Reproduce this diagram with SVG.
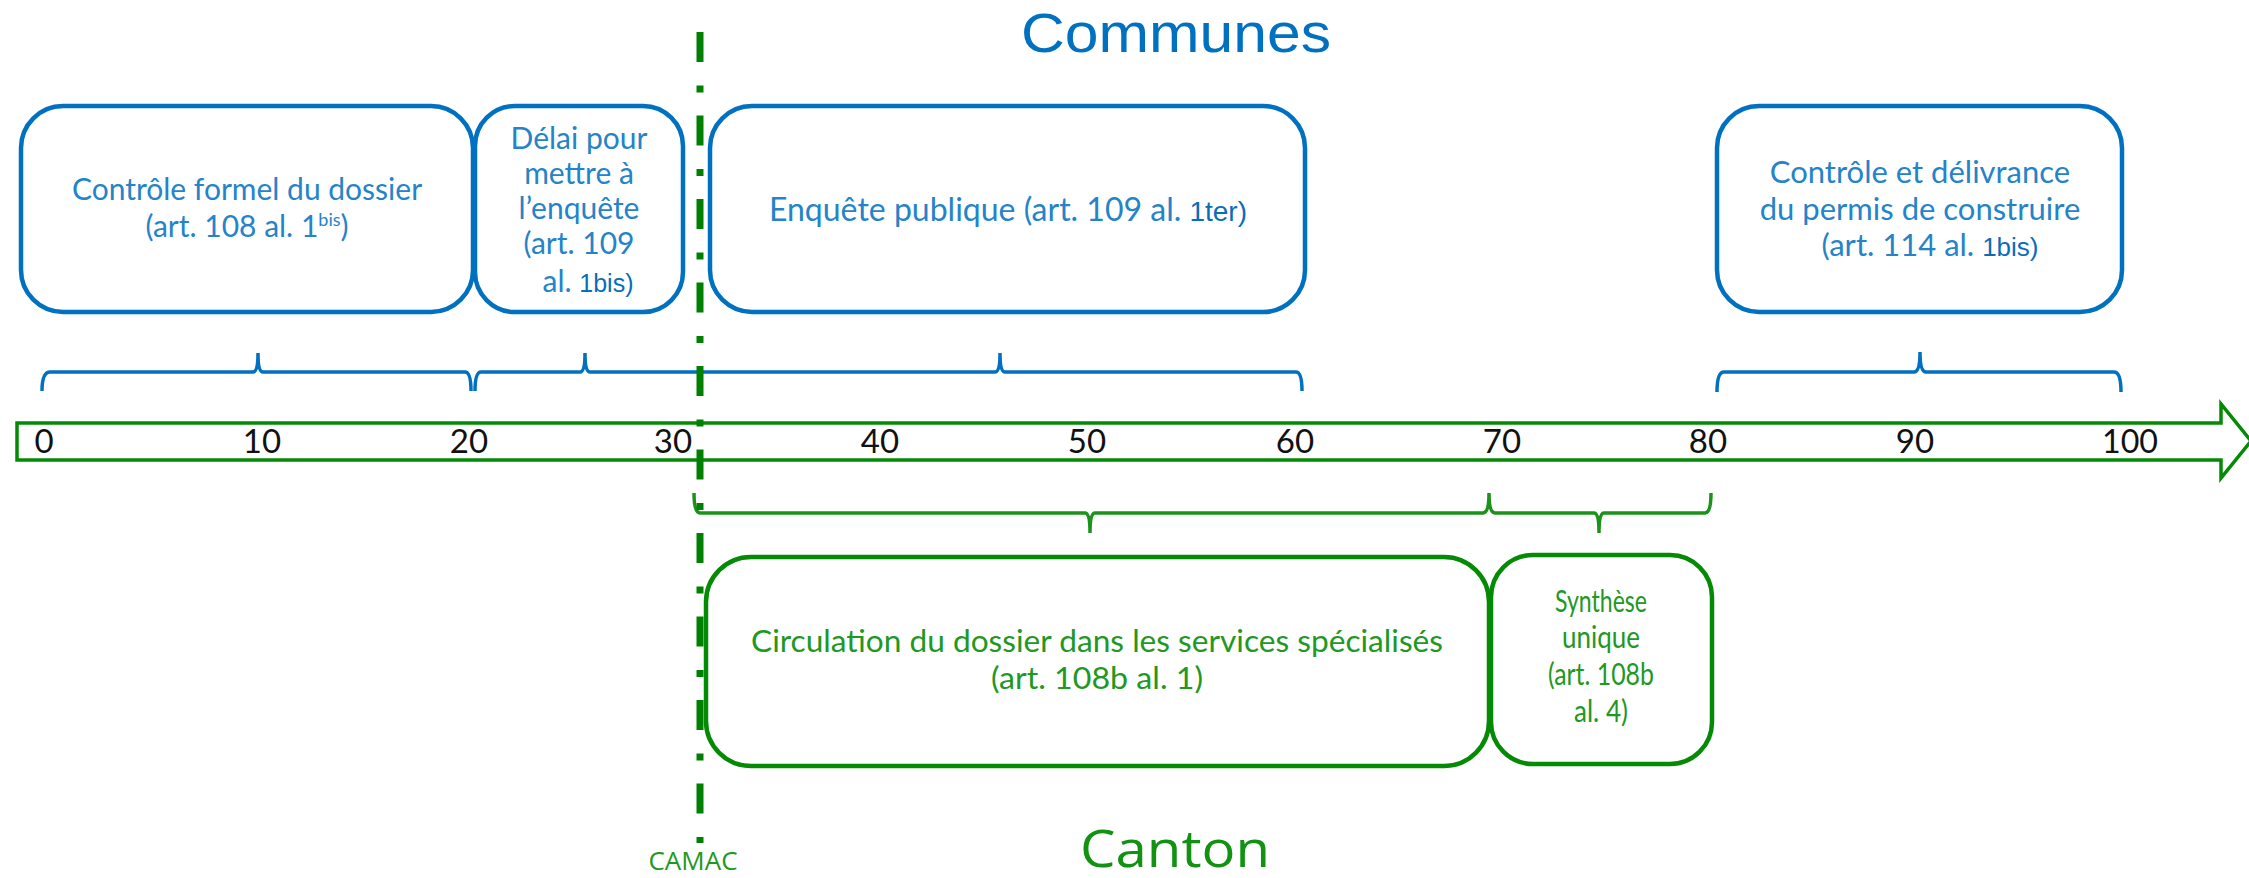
<svg xmlns="http://www.w3.org/2000/svg" width="2249" height="878" viewBox="0 0 2249 878">
<style>
.bbox{fill:#fff;stroke:#0070C0;stroke-width:4.5}
.gbox{fill:#fff;stroke:#058A05;stroke-width:4.5}
.bt{font-family:Lato,"Liberation Sans",sans-serif;font-size:30px;fill:#2583C9;text-anchor:middle}
.bt2{font-family:"Liberation Sans Narrow","Liberation Sans",sans-serif;font-size:25px;fill:#0A6DBA}
.gt{font-family:Lato,"Liberation Sans",sans-serif;font-size:30px;fill:#21981F;text-anchor:middle}
.num{font-family:Lato,"Liberation Sans",sans-serif;font-size:33px;fill:#111;text-anchor:middle}
.bbr{fill:none;stroke:#0070C0;stroke-width:3.5}
.gbr{fill:none;stroke:#1B931B;stroke-width:3.5}
.title{font-family:"Open Sans","Liberation Sans",sans-serif;text-anchor:middle}
</style>
<rect width="2249" height="878" fill="#fff"/>

<g id="title-communes"><text x="1176" y="52" style="font-family:'Liberation Sans',Arial,sans-serif;font-size:56px" text-anchor="middle" fill="#0070C0" textLength="310" lengthAdjust="spacingAndGlyphs">Communes</text></g>
<g id="title-canton"><text class="title" x="1175" y="867" font-size="52" fill="#139113" textLength="190" lengthAdjust="spacingAndGlyphs">Canton</text></g>

<g id="timeline">
<polygon points="17,423 2221,423 2221,404 2251,441 2221,478 2221,460 17,460" fill="#fff" stroke="#058A05" stroke-width="3.5"/>
<text class="num" x="44" y="453">0</text>
<text class="num" x="262" y="453">10</text>
<text class="num" x="469" y="453">20</text>
<text class="num" x="673" y="453">30</text>
<text class="num" x="880" y="453">40</text>
<text class="num" x="1087" y="453">50</text>
<text class="num" x="1295" y="453">60</text>
<text class="num" x="1502" y="453">70</text>
<text class="num" x="1708" y="453">80</text>
<text class="num" x="1915" y="453">90</text>
<text class="num" x="2130" y="453" textLength="56" lengthAdjust="spacingAndGlyphs">100</text>
</g>

<g id="node-controle-formel">
<rect class="bbox" x="21" y="106" width="452" height="206" rx="42"/>
<text class="bt" x="247" y="200">Contrôle formel du dossier</text>
<text class="bt" x="247" y="237">(art. 108 al. 1<tspan style="font-size:18px" dy="-11">bis</tspan><tspan dy="11">)</tspan></text>
</g>

<g id="node-delai">
<rect class="bbox" x="475" y="106" width="208" height="206" rx="40"/>
<text class="bt" x="579" y="149">Délai pour</text>
<text class="bt" x="579" y="184">mettre à</text>
<text class="bt" x="579" y="219">l’enquête</text>
<text class="bt" x="579" y="254">(art. 109</text>
<text class="bt" x="588" y="292">al.  <tspan class="bt2">1bis)</tspan></text>
</g>

<g id="node-enquete">
<rect class="bbox" x="710" y="106" width="595" height="206" rx="42"/>
<text class="bt" x="1008" y="221" style="font-size:32px">Enquête publique (art. 109 al.  <tspan class="bt2" style="font-size:28px">1ter)</tspan></text>
</g>

<g id="node-delivrance">
<rect class="bbox" x="1717" y="106" width="405" height="206" rx="42"/>
<text class="bt" x="1920" y="183" style="font-size:31px">Contrôle et délivrance</text>
<text class="bt" x="1920" y="220" style="font-size:31px">du permis de construire</text>
<text class="bt" x="1930" y="256" style="font-size:31px">(art. 114 al.  <tspan class="bt2" style="font-size:26px">1bis)</tspan></text>
</g>

<g id="node-circulation">
<rect class="gbox" x="706" y="557" width="783" height="209" rx="45"/>
<text class="gt" x="1097" y="652" textLength="692" lengthAdjust="spacingAndGlyphs">Circulation du dossier dans les services spécialisés</text>
<text class="gt" x="1097" y="689" textLength="212" lengthAdjust="spacingAndGlyphs">(art. 108b al. 1)</text>
</g>

<g id="node-synthese">
<rect class="gbox" x="1491" y="555" width="221" height="209" rx="42"/>
<text class="gt" x="1601" y="612" textLength="92" lengthAdjust="spacingAndGlyphs">Synthèse</text>
<text class="gt" x="1601" y="648" textLength="78" lengthAdjust="spacingAndGlyphs">unique</text>
<text class="gt" x="1601" y="685" textLength="106" lengthAdjust="spacingAndGlyphs">(art. 108b</text>
<text class="gt" x="1601" y="722" textLength="54" lengthAdjust="spacingAndGlyphs">al. 4)</text>
</g>

<g id="connectors">
<path class="bbr" d="M42,391 Q42,372 50,372 H253 Q258,372 258,353 Q258,372 263,372 H465 Q471,372 471,391"/>
<path class="bbr" d="M475,391 Q475,372 481,372 H580 Q585,372 585,353 Q585,372 590,372 H696"/>
<path class="bbr" d="M696,372 H995 Q1000,372 1000,353 Q1000,372 1005,372 H1296 Q1302,372 1302,391"/>
<path class="bbr" d="M1717,392 Q1717,372 1724,372 H1914 Q1920,372 1920,352 Q1920,372 1926,372 H2114 Q2121,372 2121,392"/>
<path class="gbr" d="M694,493 Q694,513 700,513 H1085 Q1090,513 1090,533 Q1090,513 1095,513 H1483 Q1489,513 1489,493 Q1489,513 1495,513 H1594 Q1599,513 1599,533 Q1599,513 1604,513 H1705 Q1711,513 1711,493"/>
</g>

<g id="camac">
<line x1="700" y1="32" x2="700" y2="843" stroke="#008000" stroke-width="7" stroke-dasharray="30 23.5 7 23"/>
<text class="title" x="693" y="870" font-size="26" fill="#21981F">CAMAC</text>
</g>
</svg>
